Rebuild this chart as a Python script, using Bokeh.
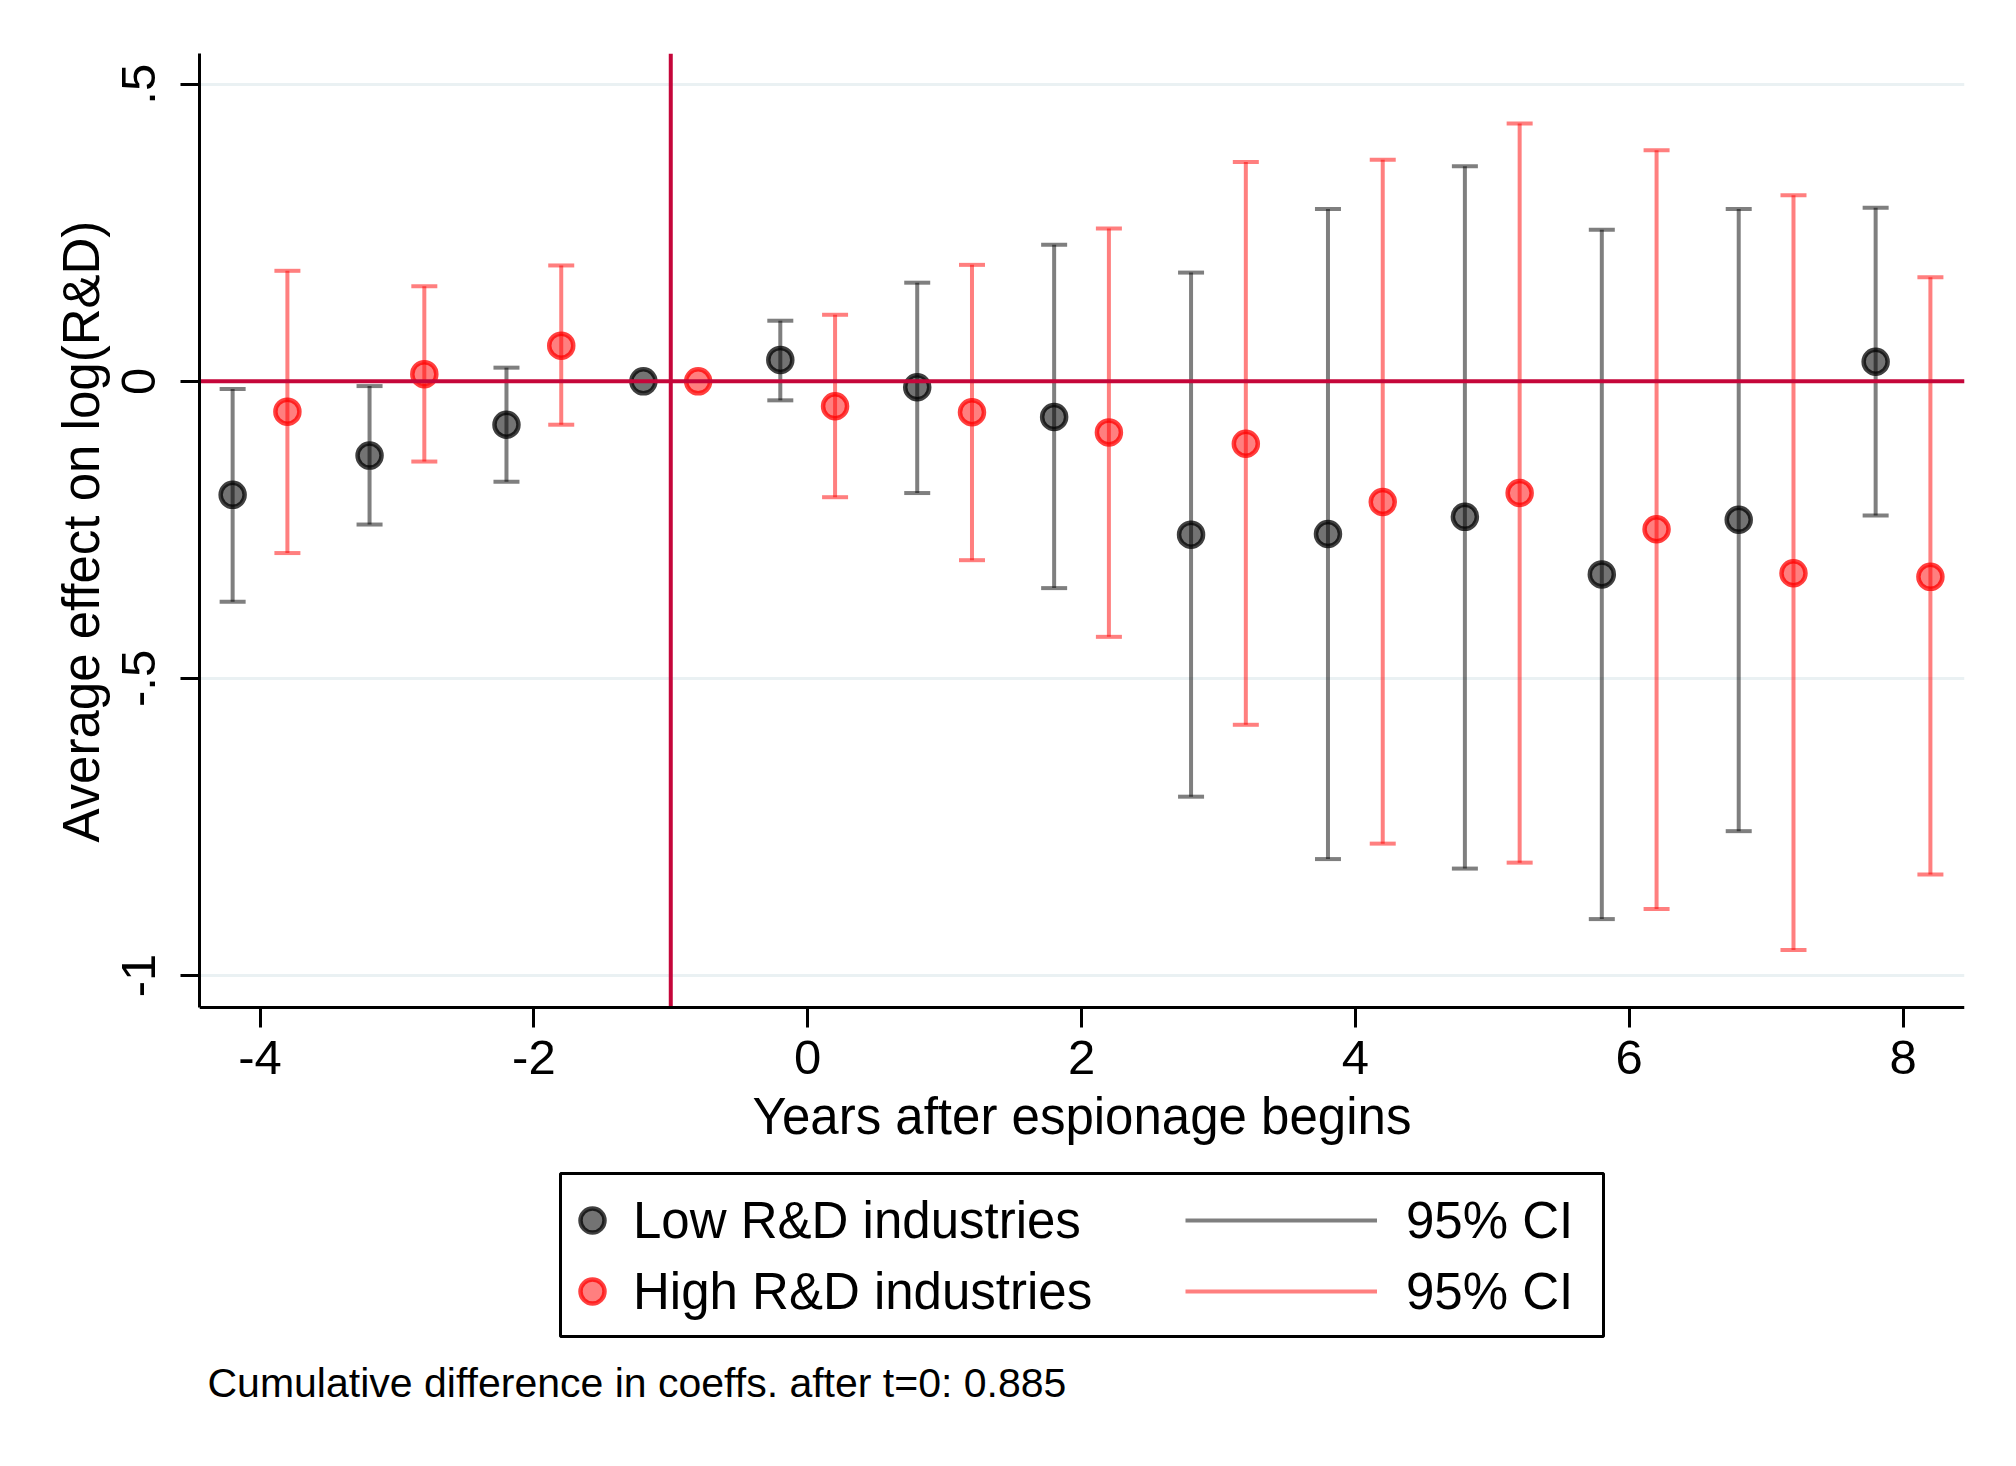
from bokeh.plotting import figure
from bokeh.models import (ColumnDataSource, Span, Legend, LegendItem, Label,
                          FixedTicker, Range1d, LinearAxis, Grid, Title,
                          BoxAnnotation)
from bokeh.transform import dodge
from bokeh.embed import file_html
from bokeh.resources import INLINE

nan = float("nan")

# ---- data -------------------------------------------------------------
years = [-4, -3, -2, -1, 0, 1, 2, 3, 4, 5, 6, 7, 8]

low_coef = [-0.191, -0.125, -0.073, 0.0, 0.036, -0.010, -0.060, -0.258, -0.257, -0.228, -0.325, -0.233, 0.033]
low_lo   = [-0.371, -0.241, -0.169, nan, -0.032, -0.188, -0.348, -0.699, -0.804, -0.820, -0.905, -0.757, -0.226]
low_hi   = [-0.013, -0.008, 0.023, nan, 0.102, 0.166, 0.230, 0.183, 0.290, 0.362, 0.255, 0.290, 0.292]

high_coef = [-0.051, 0.012, 0.060, 0.0, -0.042, -0.052, -0.086, -0.105, -0.203, -0.188, -0.249, -0.323, -0.329]
high_lo   = [-0.289, -0.135, -0.073, nan, -0.195, -0.301, -0.430, -0.578, -0.778, -0.810, -0.888, -0.957, -0.830]
high_hi   = [0.186, 0.160, 0.195, nan, 0.112, 0.196, 0.257, 0.369, 0.373, 0.434, 0.389, 0.313, 0.175]

ref_period = [-1]      # vertical reference line (last pre-treatment year)
ref_effect = 0         # horizontal reference line

x_ticks = [-4, -2, 0, 2, 4, 6, 8]
x_tick_labels = ["-4", "-2", "0", "2", "4", "6", "8"]
y_ticks = [-1, -0.5, 0, 0.5]
y_tick_labels = ["-1", "-.5", "0", ".5"]

x_title = "Years after espionage begins"
y_title = "Average effect on log(R&D)"
series_names = ["Low R&D industries", "High R&D industries"]
ci_name = "95% CI"
note = "Cumulative difference in coeffs. after t=0: 0.885"

# ---- plot region (axis extents) -----------------------------------------
X_LO, X_HI = -4.442, 8.449
Y_LO, Y_HI = -1.0533, 0.5517       # extent of the plotted region
Y_CANVAS_LO = -1.7993              # range extends below for legend / note

FONT = "Liberation Sans"
REF_COLOR = "#c5063a"
GRID_COLOR = "#eaf1f3"

p = figure(width=2000, height=1450, output_backend="svg", toolbar_location=None,
           x_range=Range1d(X_LO, X_HI), y_range=Range1d(Y_CANVAS_LO, Y_HI),
           x_axis_location=None,
           min_border_left=199, min_border_right=36, min_border_top=53,
           min_border_bottom=0)
p.outline_line_color = None
p.background_fill_color = "white"
p.border_fill_color = "white"

xaxis = LinearAxis(fixed_location=Y_LO, bounds=(X_LO, X_HI))
p.add_layout(xaxis, "below")
yaxis = p.yaxis[0]
yaxis.bounds = (Y_LO, Y_HI)

for ax in (xaxis, yaxis):
    ax.axis_line_width = 3
    ax.axis_line_color = "black"
    ax.major_tick_line_width = 3
    ax.major_tick_in = 0
    ax.minor_tick_in = 0
    ax.minor_tick_out = 0
    ax.major_label_text_font = FONT
    ax.major_label_text_font_size = "49px"
    ax.major_label_text_color = "black"
    ax.axis_label_text_font = FONT
    ax.axis_label_text_font_size = "51px"
    ax.axis_label_text_font_style = "normal"
    ax.axis_label_text_color = "black"

xaxis.ticker = FixedTicker(ticks=x_ticks)
xaxis.major_label_overrides = {float(t): l for t, l in zip(x_ticks, x_tick_labels)}
xaxis.major_tick_out = 20
xaxis.major_label_standoff = 14
xaxis.axis_label = x_title
xaxis.axis_label_standoff = 10

yaxis.ticker = FixedTicker(ticks=y_ticks)
yaxis.major_label_overrides = {float(t): l for t, l in zip(y_ticks, y_tick_labels)}
yaxis.major_label_orientation = "vertical"
yaxis.major_tick_out = 19
yaxis.major_label_standoff = 25

# y title as a left-side title, centred on the plotted region
p.add_layout(Title(text=y_title, align="left", offset=608, standoff=20,
                   text_font=FONT, text_font_size="51px",
                   text_font_style="normal", text_color="black"), "left")

for g in p.select(type=Grid):
    if g.dimension == 0:
        g.visible = False
    else:
        g.grid_line_color = GRID_COLOR
        g.grid_line_width = 3

# reference lines
p.add_layout(Span(location=ref_effect, dimension="width", line_color=REF_COLOR,
                  line_width=4, level="glyph"))
p.segment(x0=ref_period, x1=ref_period, y0=[Y_LO], y1=[Y_HI],
          line_color=REF_COLOR, line_width=4)

src_low = ColumnDataSource(dict(t=years, coef=low_coef, lo=low_lo, hi=low_hi))
src_high = ColumnDataSource(dict(t=years, coef=high_coef, lo=high_lo, hi=high_hi))

def draw(src, shift, color, fill_alpha):
    xx = dodge("t", shift)
    ci = p.segment(x0=xx, y0="lo", x1=xx, y1="hi", source=src,
                   line_color=color, line_alpha=0.5, line_width=4)
    for f in ("lo", "hi"):
        p.scatter(x=xx, y=f, source=src, marker="dash", size=26,
                  line_color=color, line_alpha=0.5, line_width=4)
    pts = p.scatter(x=xx, y="coef", source=src, marker="circle", size=24,
                    fill_color=color, fill_alpha=fill_alpha,
                    line_color=color, line_alpha=0.75, line_width=4.5)
    return ci, pts

ci_low, pts_low = draw(src_low, -0.2, "black", 0.55)
ci_high, pts_high = draw(src_high, 0.2, "red", 0.5)

# legend frame + two legend columns (inside the frame, below the plotted region)
p.add_layout(BoxAnnotation(left=361, right=1404, bottom=114, top=277,
                           left_units="screen", right_units="screen",
                           bottom_units="screen", top_units="screen",
                           fill_color="white", fill_alpha=1.0,
                           line_color="black", line_width=3, line_alpha=1.0))

common = dict(orientation="vertical", glyph_height=60, spacing=11, padding=0,
              margin=0, label_text_font=FONT, label_text_font_size="51px",
              label_text_color="black", border_line_color=None,
              background_fill_alpha=0.0)
leg_a = Legend(items=[LegendItem(label=series_names[0], renderers=[pts_low]),
                      LegendItem(label=series_names[1], renderers=[pts_high])],
               location=(363, 129), glyph_width=60, label_standoff=11, **common)
leg_b = Legend(items=[LegendItem(label=ci_name, renderers=[ci_low]),
                      LegendItem(label=ci_name, renderers=[ci_high])],
               location=(986, 129), glyph_width=192, label_standoff=29, **common)
p.add_layout(leg_a, "center")
p.add_layout(leg_b, "center")

p.add_layout(Label(x=8, y=68, x_units="screen", y_units="screen", text=note,
                   text_font=FONT, text_font_size="41px", text_color="black",
                   text_baseline="alphabetic"))

open("out.html", "w").write(file_html(p, INLINE))
